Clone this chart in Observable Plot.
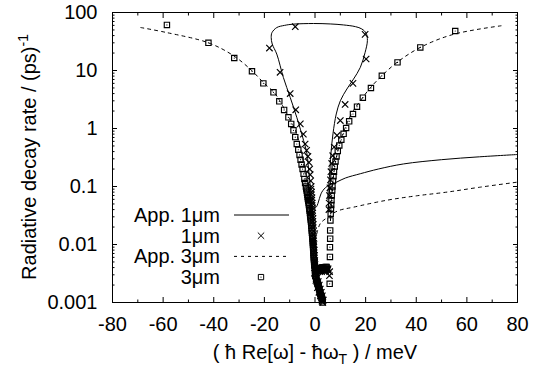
<!DOCTYPE html>
<html><head><meta charset="utf-8">
<script src="https://cdn.jsdelivr.net/npm/d3@7"></script>
<script src="https://cdn.jsdelivr.net/npm/@observablehq/plot@0.6"></script>
<style>body{margin:0;background:#fff} svg{display:block}</style>
</head><body><div id="chart"></div>
<script>
// ---- tick values ----
const xTickLabels = [-80, -60, -40, -20, 0, 20, 40, 60, 80];
const xMinorTicks = [-70, -50, -30, -10, 10, 30, 50, 70];
const yTickLabels = [0.001, 0.01, 0.1, 1, 10, 100];
const yMinorTicks = [0.002,0.003,0.004,0.005,0.006,0.007,0.008,0.009,
  0.02,0.03,0.04,0.05,0.06,0.07,0.08,0.09,
  0.2,0.3,0.4,0.5,0.6,0.7,0.8,0.9,
  2,3,4,5,6,7,8,9, 20,30,40,50,60,70,80,90];

// ---- App. 1um (solid): one continuous curve ----
const app1X = [80, 65, 50, 35, 25, 17.9, 12, 8.7, 4.7, 2.7, 0.35, -1.3, -2.3, -3.2, -4.5, -7.2, -9.8, -12.5, -15.1, -16.9, -17.3, -17.0, -15.1, -12, -8.5, -0.6, 6, 11.3, 16, 18.5, 20.2, 20.7, 19.8, 17.9, 15.2, 12.6, 10.0, 8.4, 7.1, 6.3, 5.7, 5.3, 5.0];
const app1Y = [0.356, 0.325, 0.29, 0.245, 0.2, 0.166, 0.14, 0.12, 0.1, 0.08, 0.044, 0.07, 0.155, 0.37, 0.62, 1.56, 3.44, 7.6, 19.2, 28.6, 37, 45, 55, 60, 63, 64.6, 63.5, 61, 57, 52, 44, 33, 20.5, 11.3, 7.1, 4.8, 3.0, 1.78, 0.81, 0.37, 0.145, 0.097, 0.06];

// ---- App. 3um (dashed): three branches ----
const app3LeftX = [-68.8, -58.5, -42.1, -32.2, -24.9, -20.4, -16.0, -13.7, -11.8, -10.1, -8.7, -7.6, -6.4, -5.3, -4.3, -3.4, -2.6, -1.9, -1.2, -0.6, -0.2];
const app3LeftY = [55, 45, 30, 18, 9.9, 6.2, 4.1, 2.9, 2.05, 1.5, 1.15, 0.9, 0.6, 0.38, 0.22, 0.12, 0.065, 0.033, 0.017, 0.009, 0.0045];
const app3RightX = [73.5, 54.7, 41.6, 32.4, 26.4, 21.8, 17.9, 15.2, 13.2, 11.6, 10.2, 9.0, 8.0, 7.3, 6.8, 6.4, 6.1];
const app3RightY = [59, 42, 25, 13.8, 8.1, 5.0, 3.0, 2.04, 1.4, 0.95, 0.63, 0.4, 0.25, 0.15, 0.09, 0.05, 0.025];
const app3LowX = [0.75, 2.1, 5.3, 9, 15.2, 28.4, 40, 52.1, 65, 80];
const app3LowY = [0.0155, 0.023, 0.03, 0.038, 0.044, 0.058, 0.069, 0.08, 0.097, 0.119];

// ---- 1um computed points (x marks) ----
const pts1X = [-7.8, -18, -13.8, -9.8, -7.6, -5.8, -4.6, -3.9, -3.3, -2.8, -2.4, -2.1, -1.9, -1.7, -1.5, -1.35, -1.2, -1.1, -1.0, -0.9, -0.8, -0.7, -0.6, -0.5, -0.4, -0.3, -0.2, -0.1, 0.0,
  -1.6, -1.42, -1.28, -1.15, -1.05, -0.95, -0.85, -0.75, -0.65, -0.55, -0.45, -0.35, -0.25, -0.15,
  0.4, 0.8, 1.2, 1.6, 2.0, 2.4, 2.8, 3.2, 3.6, 4.0, 4.4, 4.8, 5.2, 5.8, 5.7,
  0.2, 1.0, 1.8, 2.6, 3.4, 4.2, 5.0,
  0.2, 0.5, 0.8, 1.1, 1.4, 1.7, 2.0, 2.3, 2.6, 2.9,
  -0.2, 0.35, 0.95, 1.55, 2.15, 2.75, 3.1,
  0.9, 1.3, 1.7, 2.1, 2.5, 2.9, 3.3,
  19.8, 20.2, 15, 11.9, 10, 8.7, 7.6, 7.0, 6.6, 6.3, 6.1, 5.9, 5.7, 5.6, 5.5];
const pts1Y = [57, 24.4, 9.3, 4.0, 2.1, 1.2, 0.8, 0.54, 0.42, 0.33, 0.26, 0.2, 0.16, 0.125, 0.1, 0.08, 0.064, 0.052, 0.043, 0.035, 0.028, 0.022, 0.017, 0.013, 0.01, 0.008, 0.0065, 0.0053, 0.0045,
  0.09, 0.072, 0.058, 0.047, 0.039, 0.031, 0.025, 0.0195, 0.015, 0.0115, 0.009, 0.0072, 0.0059, 0.0049,
  0.0036, 0.0036, 0.0036, 0.0036, 0.0036, 0.0036, 0.0036, 0.0037, 0.0037, 0.0037, 0.0038, 0.0038, 0.0038, 0.0034, 0.0029,
  0.0034, 0.0034, 0.0034, 0.0034, 0.0035, 0.0035, 0.0036,
  0.0029, 0.0026, 0.0023, 0.0021, 0.0019, 0.0017, 0.0015, 0.0013, 0.0012, 0.0011,
  0.0032, 0.0024, 0.0018, 0.0015, 0.0013, 0.00105, 0.001,
  0.0027, 0.0023, 0.002, 0.0017, 0.0015, 0.0013, 0.0011,
  42, 15.8, 6.0, 2.6, 1.37, 0.76, 0.48, 0.34, 0.25, 0.18, 0.13, 0.095, 0.07, 0.052, 0.04];

// ---- 3um computed points (squares) ----
const pts3X = [-58.5, -42.1, -31.9, -24.9, -20.4, -16.4, -14.1, -12.2, -10.5, -9.4, -8.5, -7.8, -7.2, -6.6, -6.1, -5.7, -5.3, -4.9, -4.5, -4.2, -3.9, -3.6, -3.3, -3.0, -2.8, -2.5, -2.3, -2.1, -1.9, -1.7, -1.5, -1.35, -1.2, -1.05, -0.9, -0.8, -0.7, -0.6, -0.5, -0.4, -0.3, -0.2,
  -3.45, -3.15, -2.9, -2.65, -2.4, -2.2, -2.0, -1.8, -1.6, -1.42, -1.28, -1.12, -0.98, -0.85, -0.75, -0.65, -0.55, -0.45, -0.35, -0.25,
  0.0, 0.4, 0.8, 1.2, 1.6, 2.0, 2.4, 2.8, 3.2, 3.6, 4.0, 4.4, 4.8,
  0.2, 0.6, 1.0, 1.4, 1.8, 2.2, 2.6, 3.0, 3.4, 3.8, 4.2, 4.6,
  0.0, 0.3, 0.6, 0.9, 1.2, 1.5, 1.8, 2.1, 2.4, 2.7, 2.9, 3.0,
  0.15, 0.45, 0.75, 1.05, 1.35, 1.65, 1.95, 2.25, 2.55, 2.8,
  55.4, 41.6, 32.6, 26.4, 22.1, 18.9, 16.6, 15, 13.5, 12.3, 11.3, 10.4, 9.6, 9.0, 8.5, 8.1, 7.8, 7.5, 7.3, 7.1, 6.9, 6.8, 6.6, 6.5, 6.4, 6.3, 6.2, 6.1, 6.0, 6.0, 5.9, 5.9, 5.8];
const pts3Y = [61, 30, 16.4, 9.7, 6.0, 4.2, 2.94, 2.09, 1.56, 1.2, 0.93, 0.71, 0.54, 0.43, 0.35, 0.29, 0.24, 0.2, 0.165, 0.135, 0.115, 0.1, 0.085, 0.072, 0.061, 0.052, 0.045, 0.038, 0.032, 0.027, 0.023, 0.019, 0.016, 0.0135, 0.0115, 0.0098, 0.0084, 0.0072, 0.0062, 0.0054, 0.0047, 0.0042,
  0.092, 0.078, 0.066, 0.056, 0.048, 0.041, 0.035, 0.0295, 0.025, 0.021, 0.0175, 0.0148, 0.0125, 0.0106, 0.009, 0.0078, 0.0067, 0.0058, 0.005, 0.0044,
  0.0036, 0.0036, 0.0036, 0.0036, 0.0036, 0.0036, 0.0036, 0.0036, 0.0037, 0.0037, 0.0037, 0.0038, 0.0038,
  0.0039, 0.0039, 0.0039, 0.0039, 0.0039, 0.0039, 0.004, 0.004, 0.004, 0.004, 0.0041, 0.0041,
  0.0031, 0.0028, 0.0025, 0.0022, 0.002, 0.0018, 0.0016, 0.0014, 0.0013, 0.0012, 0.0011, 0.001,
  0.0029, 0.0026, 0.0023, 0.0021, 0.0019, 0.0017, 0.0015, 0.00135, 0.00125, 0.00115,
  48, 25, 13.8, 8.1, 5.0, 3.4, 2.38, 1.78, 1.33, 1.02, 0.81, 0.64, 0.51, 0.41, 0.33, 0.27, 0.22, 0.18, 0.15, 0.125, 0.1, 0.085, 0.07, 0.058, 0.048, 0.041, 0.034, 0.026, 0.0175, 0.0126, 0.009, 0.0061, 0.0021];

const legendLabels = ["App. 1μm", "1μm", "App. 3μm", "3μm"];

// ---- build tables ----
const zip = (xs, ys, extra = {}) => xs.map((x, i) => ({x, y: ys[i], ...extra}));
const app1 = zip(app1X, app1Y);
const app3 = [
  ...zip(app3LeftX, app3LeftY, {seg: "left"}),
  ...zip(app3RightX, app3RightY, {seg: "right"}),
  ...zip(app3LowX, app3LowY, {seg: "low"})
];
const pts1 = zip(pts1X, pts1Y);
const pts3 = zip(pts3X, pts3Y);

const FONT = "'Liberation Sans', Arial, Helvetica, sans-serif";
const fmt = d => String(d);
const dash = "3,4";

const plot = Plot.plot({
  width: 537, height: 372,
  marginLeft: 112, marginRight: 20, marginTop: 12, marginBottom: 70,
  style: {fontFamily: FONT, background: "#fff", color: "#000"},
  x: {domain: [-80, 80]},
  y: {type: "log", domain: [0.001, 100]},
  marks: [
    Plot.axisX(xTickLabels, {anchor: "bottom", tickSize: -5, tickFormat: () => "", label: null}),
    Plot.axisX(xTickLabels, {anchor: "top", tickSize: -5, tickFormat: () => "", label: null}),
    Plot.axisX(xMinorTicks, {anchor: "bottom", tickSize: -2.5, tickFormat: () => "", label: null}),
    Plot.axisX(xMinorTicks, {anchor: "top", tickSize: -2.5, tickFormat: () => "", label: null}),
    Plot.axisY(yTickLabels, {anchor: "left", tickSize: -5, tickFormat: () => "", label: null}),
    Plot.axisY(yTickLabels, {anchor: "right", tickSize: -5, tickFormat: () => "", label: null}),
    Plot.axisY(yMinorTicks, {anchor: "left", tickSize: -2.5, tickFormat: () => "", label: null}),
    Plot.axisY(yMinorTicks, {anchor: "right", tickSize: -2.5, tickFormat: () => "", label: null}),
    Plot.axisX(xTickLabels, {anchor: "bottom", tickSize: 0, tickPadding: 14, tickFormat: fmt, fontSize: 20, label: null}),
    Plot.axisY(yTickLabels, {anchor: "left", tickSize: 0, tickPadding: 15, tickFormat: fmt, fontSize: 20, label: null}),
    Plot.line(app1, {x: "x", y: "y", stroke: "black", strokeWidth: 1, curve: "catmull-rom"}),
    Plot.line(app3, {x: "x", y: "y", z: "seg", stroke: "black", strokeWidth: 1, strokeDasharray: dash, curve: "catmull-rom"}),
    Plot.dot(pts1, {x: "x", y: "y", symbol: "times", r: 3, stroke: "black", strokeWidth: 1.15}),
    Plot.dot(pts3, {x: "x", y: "y", symbol: "square", r: 3, stroke: "black", fill: "none", strokeWidth: 1.15}),
    Plot.dot(pts3, {x: "x", y: "y", r: 0.6, fill: "black", stroke: "none"}),
    Plot.frame({stroke: "black", strokeWidth: 1})
  ]
});

document.getElementById("chart").appendChild(plot);

// ---- titles & legend (layout) ----
const svg = d3.select(plot);
const yt = svg.append("text")
  .attr("transform", "translate(36,157) rotate(-90)")
  .attr("text-anchor", "middle")
  .attr("font-family", FONT).attr("font-size", 20).attr("fill", "black");
yt.append("tspan").text("Radiative decay rate / (ps)");
yt.append("tspan").attr("dy", -8).attr("font-size", 14).text("-1");

const xt = svg.append("text")
  .attr("x", 315).attr("y", 359)
  .attr("text-anchor", "middle")
  .attr("font-family", FONT).attr("font-size", 20).attr("fill", "black");
xt.append("tspan").text("( ħ Re[ω] - ħω");
xt.append("tspan").attr("dy", 5).attr("font-size", 14).text("T");
xt.append("tspan").attr("dy", -5).text(" ) / meV");

const lg = svg.append("g").attr("font-family", FONT).attr("font-size", 20);
legendLabels.forEach((lab, i) => {
  const cy = 215 + i * 20.7;
  lg.append("text").attr("x", 220).attr("y", cy + 7).attr("text-anchor", "end").attr("fill", "black").text(lab);
  if (i === 0 || i === 2) {
    lg.append("line").attr("x1", 234).attr("x2", 289).attr("y1", cy).attr("y2", cy)
      .attr("stroke", "black").attr("stroke-width", 1)
      .attr("stroke-dasharray", i === 2 ? dash : null);
  } else if (i === 1) {
    lg.append("path").attr("d", d3.symbol(d3.symbolTimes, 28.27)()).attr("transform", `translate(261,${cy})`)
      .attr("stroke", "black").attr("fill", "none");
  } else {
    lg.append("path").attr("d", d3.symbol(d3.symbolSquare, 28.27)()).attr("transform", `translate(261,${cy})`)
      .attr("stroke", "black").attr("fill", "none");
    lg.append("circle").attr("cx", 261).attr("cy", cy).attr("r", 0.6).attr("fill", "black");
  }
});
</script>
</body></html>
